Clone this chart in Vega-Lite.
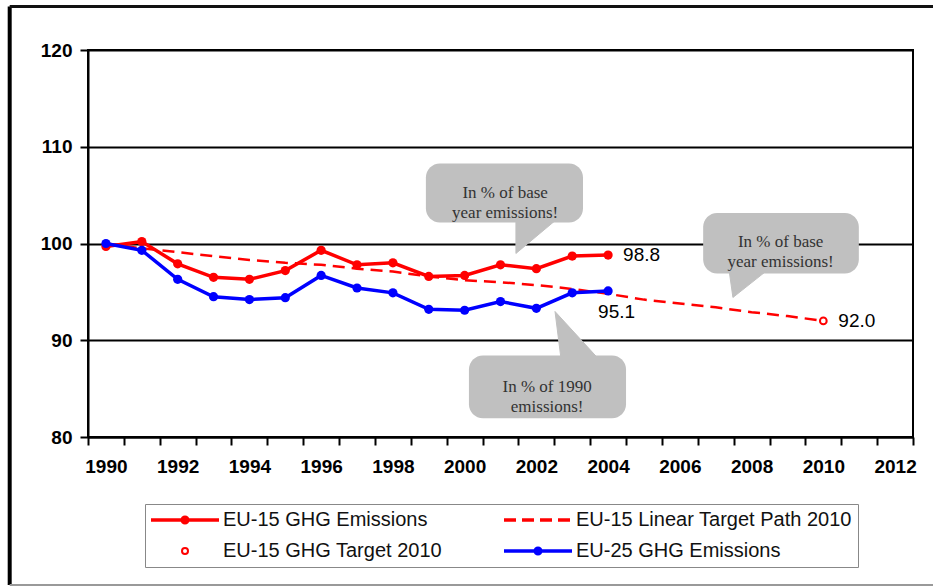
{
  "$schema": "https://vega.github.io/schema/vega-lite/v6.json",
  "width": 825,
  "height": 387,
  "autosize": {"type": "none"},
  "padding": {"left": 88, "top": 50, "right": 20, "bottom": 150},
  "background": "white",
  "config": {
    "font": "Liberation Sans",
    "view": {"stroke": "#000000", "strokeWidth": 2}
  },
  "datasets": {
    "series": [
      {"series": "EU-15 GHG Emissions", "year": 1990, "value": 99.7},
      {"series": "EU-15 GHG Emissions", "year": 1991, "value": 100.2},
      {"series": "EU-15 GHG Emissions", "year": 1992, "value": 97.9},
      {"series": "EU-15 GHG Emissions", "year": 1993, "value": 96.5},
      {"series": "EU-15 GHG Emissions", "year": 1994, "value": 96.3},
      {"series": "EU-15 GHG Emissions", "year": 1995, "value": 97.2},
      {"series": "EU-15 GHG Emissions", "year": 1996, "value": 99.3},
      {"series": "EU-15 GHG Emissions", "year": 1997, "value": 97.8},
      {"series": "EU-15 GHG Emissions", "year": 1998, "value": 98.0},
      {"series": "EU-15 GHG Emissions", "year": 1999, "value": 96.6},
      {"series": "EU-15 GHG Emissions", "year": 2000, "value": 96.7},
      {"series": "EU-15 GHG Emissions", "year": 2001, "value": 97.8},
      {"series": "EU-15 GHG Emissions", "year": 2002, "value": 97.4},
      {"series": "EU-15 GHG Emissions", "year": 2003, "value": 98.7},
      {"series": "EU-15 GHG Emissions", "year": 2004, "value": 98.8},
      {"series": "EU-25 GHG Emissions", "year": 1990, "value": 100.0},
      {"series": "EU-25 GHG Emissions", "year": 1991, "value": 99.3},
      {"series": "EU-25 GHG Emissions", "year": 1992, "value": 96.3},
      {"series": "EU-25 GHG Emissions", "year": 1993, "value": 94.5},
      {"series": "EU-25 GHG Emissions", "year": 1994, "value": 94.2},
      {"series": "EU-25 GHG Emissions", "year": 1995, "value": 94.4},
      {"series": "EU-25 GHG Emissions", "year": 1996, "value": 96.7},
      {"series": "EU-25 GHG Emissions", "year": 1997, "value": 95.4},
      {"series": "EU-25 GHG Emissions", "year": 1998, "value": 94.9},
      {"series": "EU-25 GHG Emissions", "year": 1999, "value": 93.2},
      {"series": "EU-25 GHG Emissions", "year": 2000, "value": 93.1},
      {"series": "EU-25 GHG Emissions", "year": 2001, "value": 94.0},
      {"series": "EU-25 GHG Emissions", "year": 2002, "value": 93.3},
      {"series": "EU-25 GHG Emissions", "year": 2003, "value": 94.9},
      {"series": "EU-25 GHG Emissions", "year": 2004, "value": 95.1},
      {"series": "EU-15 Linear Target Path 2010", "year": 1990, "value": 100.0},
      {"series": "EU-15 Linear Target Path 2010", "year": 1991, "value": 99.5},
      {"series": "EU-15 Linear Target Path 2010", "year": 1992, "value": 99.1},
      {"series": "EU-15 Linear Target Path 2010", "year": 1993, "value": 98.7},
      {"series": "EU-15 Linear Target Path 2010", "year": 1994, "value": 98.3},
      {"series": "EU-15 Linear Target Path 2010", "year": 1995, "value": 98.0},
      {"series": "EU-15 Linear Target Path 2010", "year": 1996, "value": 97.8},
      {"series": "EU-15 Linear Target Path 2010", "year": 1997, "value": 97.4},
      {"series": "EU-15 Linear Target Path 2010", "year": 1998, "value": 97.1},
      {"series": "EU-15 Linear Target Path 2010", "year": 1999, "value": 96.6},
      {"series": "EU-15 Linear Target Path 2010", "year": 2000, "value": 96.2},
      {"series": "EU-15 Linear Target Path 2010", "year": 2001, "value": 96.0},
      {"series": "EU-15 Linear Target Path 2010", "year": 2002, "value": 95.7},
      {"series": "EU-15 Linear Target Path 2010", "year": 2003, "value": 95.3},
      {"series": "EU-15 Linear Target Path 2010", "year": 2004, "value": 94.8},
      {"series": "EU-15 Linear Target Path 2010", "year": 2005, "value": 94.2},
      {"series": "EU-15 Linear Target Path 2010", "year": 2006, "value": 93.8},
      {"series": "EU-15 Linear Target Path 2010", "year": 2007, "value": 93.4},
      {"series": "EU-15 Linear Target Path 2010", "year": 2008, "value": 92.9},
      {"series": "EU-15 Linear Target Path 2010", "year": 2009, "value": 92.5},
      {"series": "EU-15 Linear Target Path 2010", "year": 2010, "value": 92.0},
      {"series": "EU-15 GHG Target 2010", "year": 2010, "value": 92.0}
    ],
    "labels": [
      {"year": 2004, "value": 98.8, "label": "98.8"},
      {"year": 2004, "value": 95.1, "label": "95.1"},
      {"year": 2010, "value": 92.0, "label": "92.0"}
    ],
    "bubbles": [
      {"year": 1998.92, "year2": 2003.3, "value": 102.17, "value2": 108.27},
      {"year": 2006.65, "year2": 2010.99, "value": 96.9, "value2": 103.15},
      {"year": 2000.12, "year2": 2004.5, "value": 81.95, "value2": 88.42}
    ],
    "tails": [
      {"id": 1, "i": 1, "year": 2001.43, "value": 102.6},
      {"id": 1, "i": 2, "year": 2002.6, "value": 102.6},
      {"id": 1, "i": 3, "year": 2001.43, "value": 98.97},
      {"id": 2, "i": 1, "year": 2007.37, "value": 97.3},
      {"id": 2, "i": 2, "year": 2008.46, "value": 97.3},
      {"id": 2, "i": 3, "year": 2007.48, "value": 94.42},
      {"id": 3, "i": 1, "year": 2002.69, "value": 88.0},
      {"id": 3, "i": 2, "year": 2003.75, "value": 88.0},
      {"id": 3, "i": 3, "year": 2002.52, "value": 92.97}
    ],
    "notes": [
      {"year": 2001.13, "value": 105.17, "text": "In % of base\nyear emissions!"},
      {"year": 2008.81, "value": 100.18, "text": "In % of base\nyear emissions!"},
      {"year": 2002.3, "value": 85.14, "text": "In % of 1990\nemissions!"}
    ],
    "frame": [
      {"year": 1987.317, "year2": 2014.5, "value": 124.5, "value2": 64.7}
    ]
  },
  "encoding": {
    "x": {
      "field": "year",
      "type": "quantitative",
      "scale": {"domain": [1989.5, 2012.5], "nice": false, "zero": false},
      "axis": {
        "title": null,
        "grid": false,
        "values": [1989.5, 1990, 1990.5, 1991.5, 1992, 1992.5, 1993.5, 1994, 1994.5, 1995.5, 1996, 1996.5, 1997.5, 1998, 1998.5, 1999.5, 2000, 2000.5, 2001.5, 2002, 2002.5, 2003.5, 2004, 2004.5, 2005.5, 2006, 2006.5, 2007.5, 2008, 2008.5, 2009.5, 2010, 2010.5, 2011.5, 2012, 2012.5],
        "labelExpr": "datum.value % 2 === 0 ? '' + datum.value : ''",
        "tickOpacity": {"condition": {"test": "datum.value % 1 === 0", "value": 0}, "value": 1},
        "domainColor": "#000000",
        "domainWidth": 2,
        "tickColor": "#000000",
        "tickWidth": 2,
        "tickSize": 8,
        "labelFontSize": 19,
        "labelFontWeight": "bold",
        "labelColor": "#000000",
        "labelPadding": 12,
        "labelOverlap": false,
        "labelFlush": false,
        "labelBound": false
      }
    },
    "y": {
      "field": "value",
      "type": "quantitative",
      "scale": {"domain": [80, 120], "nice": false, "zero": false},
      "axis": {
        "title": null,
        "values": [80, 90, 100, 110, 120],
        "grid": true,
        "gridColor": "#000000",
        "gridWidth": 2,
        "gridOpacity": 1,
        "domainColor": "#000000",
        "domainWidth": 2,
        "tickColor": "#000000",
        "tickWidth": 2,
        "tickSize": 8,
        "labelFontSize": 19,
        "labelFontWeight": "bold",
        "labelColor": "#000000",
        "labelPadding": 8
      }
    }
  },
  "layer": [
    {
      "data": {"name": "frame"},
      "mark": {"type": "rule", "clip": false, "stroke": "#000000", "strokeWidth": 4},
      "encoding": {
        "y2": {"field": "value2"}
      }
    },
    {
      "data": {"name": "frame"},
      "mark": {"type": "rule", "clip": false, "stroke": "#111111", "strokeWidth": 3},
      "encoding": {
        "x2": {"field": "year2"}
      }
    },
    {
      "data": {"name": "frame"},
      "mark": {"type": "rule", "clip": false, "stroke": "#999999", "strokeWidth": 2},
      "encoding": {
        "y": {"field": "value2", "type": "quantitative"},
        "x2": {"field": "year2"}
      }
    },
    {
      "data": {"name": "bubbles"},
      "mark": {"type": "rect", "fill": "#c0c0c0", "cornerRadius": 14},
      "encoding": {
        "x2": {"field": "year2"},
        "y2": {"field": "value2"}
      }
    },
    {
      "data": {"name": "tails"},
      "mark": {"type": "line", "fill": "#c0c0c0", "stroke": "#c0c0c0", "strokeWidth": 1, "interpolate": "linear-closed"},
      "encoding": {
        "detail": {"field": "id", "type": "nominal"},
        "order": {"field": "i", "type": "quantitative"}
      }
    },
    {
      "data": {"name": "notes"},
      "mark": {"type": "text", "font": "Liberation Serif", "fontSize": 17, "color": "#333333", "align": "center", "baseline": "middle", "lineBreak": "\n", "lineHeight": 20},
      "encoding": {
        "text": {"field": "text", "type": "nominal"}
      }
    },
    {
      "data": {"name": "series"},
      "transform": [{"filter": "datum.series === 'EU-15 Linear Target Path 2010'"}],
      "mark": {"type": "line", "color": "#ff0000", "strokeWidth": 2.5, "strokeDash": [12, 7]}
    },
    {
      "data": {"name": "series"},
      "transform": [{"filter": "datum.series === 'EU-15 GHG Emissions'"}],
      "mark": {"type": "line", "color": "#ff0000", "strokeWidth": 3.5, "point": {"filled": true, "size": 85, "color": "#ff0000"}}
    },
    {
      "data": {"name": "series"},
      "transform": [{"filter": "datum.series === 'EU-25 GHG Emissions'"}],
      "mark": {"type": "line", "color": "#0000ff", "strokeWidth": 3.5, "point": {"filled": true, "size": 85, "color": "#0000ff"}}
    },
    {
      "data": {"name": "series"},
      "transform": [{"filter": "datum.series === 'EU-15 GHG Target 2010'"}],
      "mark": {"type": "point", "shape": "circle", "size": 45, "fill": "#ffffff", "fillOpacity": 1, "stroke": "#ff0000", "strokeWidth": 2, "opacity": 1}
    },
    {
      "data": {"name": "labels"},
      "transform": [{"filter": "datum.label !== '95.1'"}],
      "mark": {"type": "text", "align": "left", "baseline": "middle", "dx": 15, "fontSize": 19, "color": "#000000"},
      "encoding": {"text": {"field": "label", "type": "nominal"}}
    },
    {
      "data": {"name": "labels"},
      "transform": [{"filter": "datum.label === '95.1'"}],
      "mark": {"type": "text", "align": "left", "baseline": "middle", "dx": -10, "dy": 21, "fontSize": 19, "color": "#000000"},
      "encoding": {"text": {"field": "label", "type": "nominal"}}
    },
    {
      "data": {"name": "series"},
      "mark": {"type": "point", "opacity": 0, "filled": true, "strokeWidth": 3.5},
      "encoding": {
        "fill": {
          "field": "series", "type": "nominal",
          "scale": {"domain": ["EU-15 GHG Emissions", "EU-15 GHG Target 2010", "EU-15 Linear Target Path 2010", "EU-25 GHG Emissions"], "range": ["#ff0000", "#ffffff", "#ff0000", "#0000ff"]},
          "legend": {"title": null, "orient": "none", "legendX": 57, "legendY": 454, "columns": 2, "values": ["EU-15 GHG Emissions", "EU-15 GHG Target 2010", "EU-15 Linear Target Path 2010", "EU-25 GHG Emissions"], "symbolSize": 400, "symbolStrokeWidth": 3.5, "symbolOpacity": 1, "labelFont": "Liberation Sans", "labelFontSize": 20, "labelColor": "#111111", "labelLimit": 400, "labelOffset": 52, "columnPadding": 55, "rowPadding": 11, "padding": 6, "strokeColor": "#888888", "fillColor": "#ffffff",
            "encode": {"symbols": {"update": {"strokeWidth": {"signal": "datum.value === 'EU-15 GHG Target 2010' ? 2 : 3.5"}}}}}
        },
        "stroke": {
          "field": "series", "type": "nominal",
          "scale": {"domain": ["EU-15 GHG Emissions", "EU-15 GHG Target 2010", "EU-15 Linear Target Path 2010", "EU-25 GHG Emissions"], "range": ["#ff0000", "#ff0000", "#ff0000", "#0000ff"]},
          "legend": {"title": null, "orient": "none", "legendX": 57, "legendY": 454, "columns": 2, "values": ["EU-15 GHG Emissions", "EU-15 GHG Target 2010", "EU-15 Linear Target Path 2010", "EU-25 GHG Emissions"], "symbolSize": 400, "symbolStrokeWidth": 3.5, "symbolOpacity": 1, "labelFont": "Liberation Sans", "labelFontSize": 20, "labelColor": "#111111", "labelLimit": 400, "labelOffset": 52, "columnPadding": 55, "rowPadding": 11, "padding": 6, "strokeColor": "#888888", "fillColor": "#ffffff",
            "encode": {"symbols": {"update": {"strokeWidth": {"signal": "datum.value === 'EU-15 GHG Target 2010' ? 2 : 3.5"}}}}}
        },
        "shape": {
          "field": "series", "type": "nominal",
          "scale": {"domain": ["EU-15 GHG Emissions", "EU-15 GHG Target 2010", "EU-15 Linear Target Path 2010", "EU-25 GHG Emissions"], "range": ["M-1,0H5.8M2.12,0A0.28,0.28 0 1,1 2.68,0A0.28,0.28 0 1,1 2.12,0Z", "M2.1,0A0.3,0.3 0 1,1 2.7,0A0.3,0.3 0 1,1 2.1,0Z", "M-1,0H0.2M0.8,0H2M2.6,0H3.8M4.4,0H5.6", "M-1,0H5.8M2.12,0A0.28,0.28 0 1,1 2.68,0A0.28,0.28 0 1,1 2.12,0Z"]},
          "legend": {"title": null, "orient": "none", "legendX": 57, "legendY": 454, "columns": 2, "values": ["EU-15 GHG Emissions", "EU-15 GHG Target 2010", "EU-15 Linear Target Path 2010", "EU-25 GHG Emissions"], "symbolSize": 400, "symbolStrokeWidth": 3.5, "symbolOpacity": 1, "labelFont": "Liberation Sans", "labelFontSize": 20, "labelColor": "#111111", "labelLimit": 400, "labelOffset": 52, "columnPadding": 55, "rowPadding": 11, "padding": 6, "strokeColor": "#888888", "fillColor": "#ffffff",
            "encode": {"symbols": {"update": {"strokeWidth": {"signal": "datum.value === 'EU-15 GHG Target 2010' ? 2 : 3.5"}}}}}
        }
      }
    }
  ]
}
